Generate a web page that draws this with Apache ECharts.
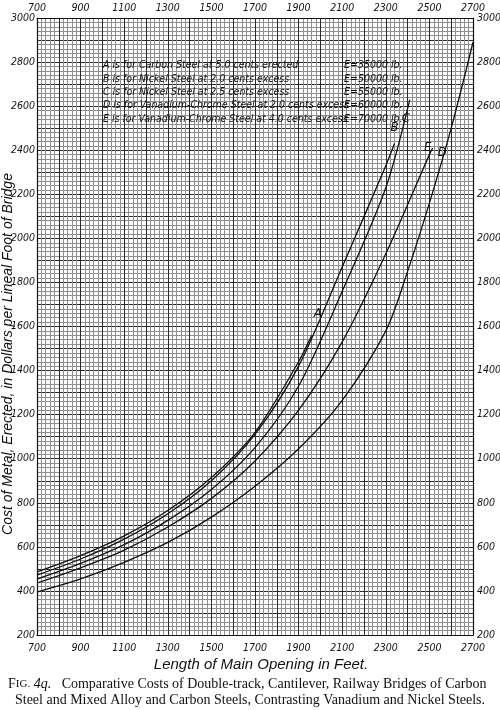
<!DOCTYPE html>
<html>
<head>
<meta charset="utf-8">
<script src="https://cdn.jsdelivr.net/npm/echarts@6/dist/echarts.min.js"></script>
<style>html,body{margin:0;padding:0;background:#fff;}#c{width:500px;height:710px;}</style>
</head>
<body>
<div id="c"></div>
<script>
// Span in feet (x) and cost in dollars per lineal foot (y)
const spanA = [700, 900, 1100, 1300, 1500, 1700, 1900, 1960];
const costA = [486, 560, 650, 765, 915, 1120, 1440, 1560];
const spanB = [700, 900, 1100, 1300, 1500, 1700, 1900, 2100, 2300, 2340];
const costB = [472, 545, 635, 750, 900, 1110, 1420, 1870, 2330, 2430];
const spanC = [700, 900, 1100, 1300, 1500, 1700, 1900, 2100, 2300, 2410];
const costC = [454, 525, 610, 720, 860, 1050, 1330, 1760, 2230, 2630];
const spanE = [700, 900, 1100, 1300, 1500, 1700, 1900, 2100, 2300, 2500, 2515];
const costE = [436, 505, 585, 690, 820, 990, 1220, 1530, 1930, 2380, 2410];
const spanD = [700, 900, 1100, 1300, 1500, 1700, 1900, 2100, 2300, 2400, 2500, 2600, 2700];
const costD = [395, 455, 530, 620, 735, 875, 1045, 1265, 1580, 1850, 2160, 2500, 2890];

const legendLines = [
  'A is for Carbon Steel at 5.0 cents erected',
  'B is for Nickel Steel at 2.0 cents excess',
  'C is for Nickel Steel at 2.5 cents excess',
  'D is for Vanadium-Chrome Steel at 2.0 cents excess',
  'E is for Vanadium-Chrome Steel at 4.0 cents excess'
];
const legendE = ['E=35000 lb.', 'E=50000 lb.', 'E=55000 lb.', 'E=60000 lb.', 'E=70000 lb.'];

const hand = "'Liberation Sans Narrow','DejaVu Sans Condensed','Liberation Sans',sans-serif";
const zip = (xs, ys) => xs.map((x, i) => [x, ys[i]]);

function curve(name, xs, ys, labelIdx, offset) {
  return {
    type: 'line', name: name, data: zip(xs, ys), smooth: 0.3,
    symbol: 'none', showSymbol: false,
    lineStyle: {color: '#111', width: 1.3},
    z: 5, animation: false,
    markPoint: {
      symbol: 'circle', symbolSize: 1, itemStyle: {color: 'rgba(0,0,0,0)'},
      label: {show: true, formatter: name, position: 'inside', offset: offset,
        fontFamily: hand, fontStyle: 'italic', fontSize: 13, color: '#111'},
      data: [{coord: [xs[labelIdx], ys[labelIdx]], value: name}]
    }
  };
}

const axisLab = {fontFamily: hand, fontStyle: 'italic', fontSize: 10.5, color: '#111'};
const xFmt = v => ((v - 700) % 200 === 0 ? String(v) : '');
const yFmt = v => (v % 200 === 0 ? String(v) : '');

const chart = echarts.init(document.getElementById('c'), null, {renderer: 'canvas'});
chart.setOption({
  animation: false,
  backgroundColor: '#fff',
  grid: {left: 37, top: 18, width: 436, height: 617, containLabel: false, outerBoundsMode: 'none'},
  xAxis: [{
    type: 'value', position: 'bottom', min: 700, max: 2700, interval: 100,
    axisLine: {show: true, onZero: false, lineStyle: {color: '#111', width: 1.2}},
    axisTick: {show: false},
    axisLabel: Object.assign({formatter: xFmt, margin: 8}, axisLab),
    splitLine: {show: true, lineStyle: {color: '#2a2a2a', width: 1}},
    minorTick: {show: false, splitNumber: 5},
    minorSplitLine: {show: true, lineStyle: {color: '#8f8f8f', width: 1}}
  }, {
    type: 'value', position: 'top', min: 700, max: 2700, interval: 100,
    axisLine: {show: true, onZero: false, lineStyle: {color: '#111', width: 1.2}},
    axisTick: {show: false},
    axisLabel: Object.assign({formatter: xFmt, margin: 4}, axisLab),
    splitLine: {show: false}
  }],
  yAxis: [{
    type: 'value', position: 'left', min: 200, max: 3000, interval: 100,
    axisLine: {show: true, onZero: false, lineStyle: {color: '#111', width: 1.2}},
    axisTick: {show: false},
    axisLabel: Object.assign({formatter: yFmt, margin: 2}, axisLab),
    splitLine: {show: true, lineStyle: {color: '#2a2a2a', width: 1}},
    minorTick: {show: false, splitNumber: 5},
    minorSplitLine: {show: true, lineStyle: {color: '#8f8f8f', width: 1}}
  }, {
    type: 'value', position: 'right', min: 200, max: 3000, interval: 100,
    axisLine: {show: true, onZero: false, lineStyle: {color: '#111', width: 1.2}},
    axisTick: {show: false},
    axisLabel: Object.assign({formatter: yFmt, margin: 4}, axisLab),
    splitLine: {show: false}
  }],
  series: [
    curve('A', spanA, costA, 7, [6, -22]),
    curve('B', spanB, costB, 9, [0, -16]),
    curve('C', spanC, costC, 9, [-4, 19]),
    curve('E', spanE, costE, 10, [-5, 0]),
    curve('D', spanD, costD, 11, [-9, 24])
  ],
  graphic: [].concat(
    legendLines.map((t, i) => ({
      type: 'text', left: 103, top: 60 + i * 13.4, z: 10,
      style: {text: t, font: "italic 10.5px " + hand, fill: '#111'}
    })),
    legendE.map((t, i) => ({
      type: 'text', left: 344, top: 60 + i * 13.4, z: 10,
      style: {text: t, font: "italic 10.5px " + hand, fill: '#111'}
    })),
    [{
      type: 'text', x: 8, y: 354, rotation: Math.PI / 2, z: 10,
      style: {
        text: 'Cost of Metal, Erected, in Dollars per Lineal Foot of Bridge',
        font: "italic 14px 'Liberation Sans','DejaVu Sans',sans-serif", fill: '#111',
        align: 'center', verticalAlign: 'middle'
      }
    }, {
      type: 'text', x: 261, y: 665, z: 10,
      style: {
        text: 'Length of Main Opening in Feet.',
        font: "italic 15px 'Liberation Sans','DejaVu Sans',sans-serif", fill: '#111',
        align: 'center', verticalAlign: 'middle'
      }
    }, {
      type: 'text', left: 8, top: 677, z: 10,
      style: {
        text: '{a|F}{b|IG.} {c|4q.}   Comparative Costs of Double-track, Cantilever, Railway Bridges of Carbon',
        font: "14px 'Liberation Serif','DejaVu Serif',serif", fill: '#111',
        rich: {
          a: {font: "14px 'Liberation Serif',serif", fill: '#111'},
          b: {font: "11px 'Liberation Serif',serif", fill: '#111'},
          c: {font: "italic 14px 'Liberation Serif',serif", fill: '#111'}
        }
      }
    }, {
      type: 'text', left: 'center', top: 693, z: 10,
      style: {
        text: 'Steel and Mixed Alloy and Carbon Steels, Contrasting Vanadium and Nickel Steels.',
        font: "14px 'Liberation Serif','DejaVu Serif',serif", fill: '#111'
      }
    }]
  )
});
</script>
</body>
</html>
